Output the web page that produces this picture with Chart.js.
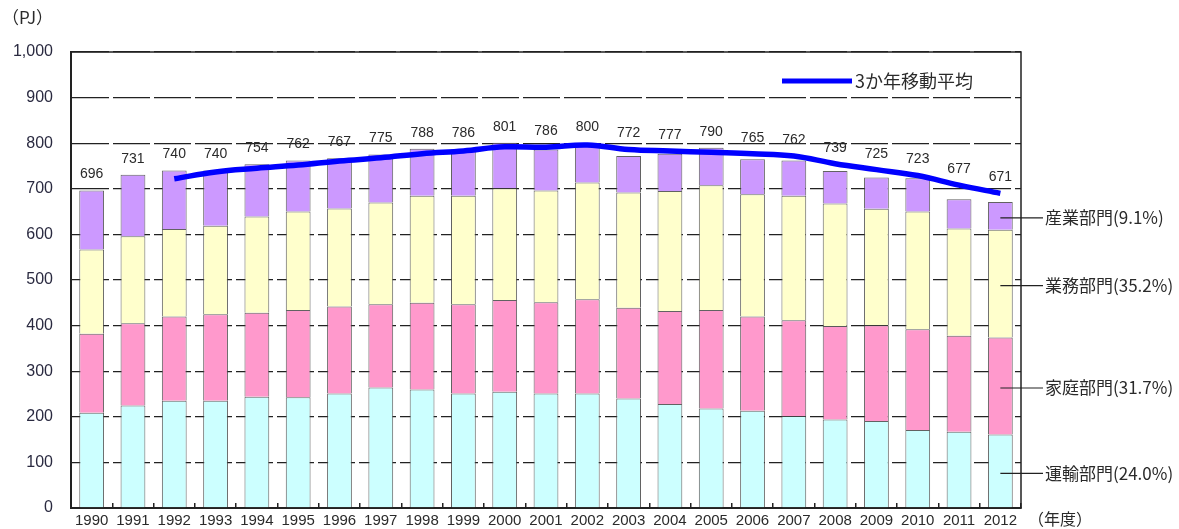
<!DOCTYPE html>
<html lang="ja">
<head>
<meta charset="UTF-8">
<title>部門別エネルギー消費量の推移</title>
<script src="https://cdn.jsdelivr.net/npm/chart.js"></script>
<style>
    html, body { margin: 0; padding: 0; background: #fff; }
    #wrap { width: 1179px; height: 529px; }
</style>
</head>
<body>
<div id="wrap"><canvas id="energyChart" width="1179" height="529"></canvas></div>
<script>
// 年度
const years = ['1990','1991','1992','1993','1994','1995','1996','1997','1998','1999','2000',
               '2001','2002','2003','2004','2005','2006','2007','2008','2009','2010','2011','2012'];

// 部門別 (PJ) - 図から読み取り
const unyu   = [209,225,235,235,244,243,251,264,260,251,255,251,251,240,228,218,213,202,194,191,171,167,161];
const katei  = [173,180,185,190,184,191,191,183,190,196,201,200,207,199,204,216,207,210,205,210,221,211,213];
const gyomu  = [185,191,192,194,211,216,215,223,235,238,245,245,256,253,263,274,268,273,269,255,258,235,236];
const sangyo = [129,135,128,121,115,112,110,105,103,101,100,90,86,80,82,82,77,77,71,69,73,64,61];

// 合計 (棒の上のラベル)
const totals = [696,731,740,740,754,762,767,775,788,786,801,786,800,772,777,790,765,762,739,725,723,677,671];

// 3か年移動平均 (1992年度から)
const movingAvg = [null,null,722,737,745,752,761,768,777,783,792,791,796,786,783,780,777,772,755,742,729,708,690];

const sectorNames = ['運輸部門(24.0%)','家庭部門(31.7%)','業務部門(35.2%)','産業部門(9.1%)'];

const numFont = '"Liberation Sans", Arial, sans-serif';
const jpFont = '"Noto Sans CJK JP", sans-serif';

// 枠線・ラベル類を描くプラグイン
const decorPlugin = {
    id: 'decor',
    beforeDatasetsDraw(chart) {
        const { ctx, scales } = chart;
        // 合計値ラベル (棒または移動平均線の上に置く)
        ctx.save();
        ctx.font = '14px ' + numFont;
        ctx.fillStyle = '#2a2a2a';
        ctx.textAlign = 'center';
        ctx.textBaseline = 'middle';
        totals.forEach((t, i) => {
            let top = scales.y.getPixelForValue(t);
            if (movingAvg[i] !== null) {
                top = Math.min(top, scales.y.getPixelForValue(movingAvg[i]));
            }
            ctx.fillText(String(t), scales.x.getPixelForValue(i), top - 16);
        });
        ctx.restore();
    },
    afterDraw(chart) {
        const { ctx, chartArea, scales } = chart;
        ctx.save();
        // 外枠
        ctx.strokeStyle = '#222';
        ctx.lineWidth = 1.5;
        ctx.beginPath();
        ctx.moveTo(chartArea.left, chartArea.top);
        ctx.lineTo(chartArea.right, chartArea.top);
        ctx.lineTo(chartArea.right, chartArea.bottom);
        ctx.stroke();

        // 単位
        ctx.fillStyle = '#2a2a2a';
        ctx.font = '17px ' + jpFont;
        ctx.textBaseline = 'middle';
        ctx.textAlign = 'left';
        ctx.fillText('（PJ）', 2, 18);
        ctx.font = '16px ' + jpFont;
        ctx.fillText('（年度）', 1028, 519);

        // 凡例
        ctx.strokeStyle = '#0000ff';
        ctx.lineWidth = 5;
        ctx.beginPath();
        ctx.moveTo(782, 81);
        ctx.lineTo(852, 81);
        ctx.stroke();
        ctx.fillStyle = '#2a2a2a';
        ctx.font = '18px ' + jpFont;
        ctx.fillText('3か年移動平均', 855, 81);

        // 右側の部門ラベル
        const last = years.length - 1;
        const x0 = scales.x.getPixelForValue(last);
        const stacks = [unyu, katei, gyomu, sangyo];
        let base = 0;
        ctx.font = '17px ' + jpFont;
        stacks.forEach((s, k) => {
            const mid = base + s[last] / 2;
            base += s[last];
            const y = scales.y.getPixelForValue(mid) + 2;
            ctx.strokeStyle = '#222';
            ctx.lineWidth = 1.2;
            ctx.beginPath();
            ctx.moveTo(x0, y);
            ctx.lineTo(1043, y);
            ctx.stroke();
            ctx.fillStyle = '#2a2a2a';
            ctx.fillText(sectorNames[k], 1045, y);
        });
        ctx.restore();
    }
};

const barBorder = 'rgba(70,70,70,0.85)';
function barSet(label, data, color) {
    return {
        type: 'bar',
        label: label,
        data: data,
        backgroundColor: color,
        borderColor: barBorder,
        borderWidth: 1,
        barPercentage: 0.6,
        categoryPercentage: 1.0,
        stack: 'total',
        order: 1
    };
}

new Chart(document.getElementById('energyChart').getContext('2d'), {
    data: {
        labels: years,
        datasets: [
            {
                type: 'line',
                label: '3か年移動平均',
                data: movingAvg,
                borderColor: '#0000ff',
                borderWidth: 5.5,
                pointRadius: 0,
                tension: 0.4,
                fill: false,
                spanGaps: false,
                order: 0
            },
            barSet(sectorNames[0], unyu, '#ccffff'),
            barSet(sectorNames[1], katei, '#ff99cc'),
            barSet(sectorNames[2], gyomu, '#ffffcc'),
            barSet(sectorNames[3], sangyo, '#cc99ff')
        ]
    },
    options: {
        responsive: false,
        animation: false,
        layout: { padding: { left: 0, right: 158, top: 52, bottom: 0 } },
        plugins: {
            legend: { display: false },
            tooltip: { enabled: false }
        },
        scales: {
            x: {
                stacked: true,
                // 区切りの小さい目盛り (内向き)
                grid: { display: true, drawOnChartArea: false, drawTicks: true, tickLength: -5, color: '#222', lineWidth: 1.5 },
                border: { display: true, color: '#222', width: 2 },
                ticks: {
                    color: '#2a2a2a',
                    font: { family: numFont, size: 15 },
                    padding: 9,
                    maxRotation: 0,
                    autoSkip: false
                },
                afterFit(scale) { scale.height = 21; }
            },
            y: {
                stacked: true,
                min: 0,
                max: 1000,
                grid: { color: '#222', lineWidth: 1.3, drawTicks: false },
                border: { display: true, color: '#222', width: 2, dash: [37, 4] },
                ticks: {
                    stepSize: 100,
                    color: '#2a2a40',
                    font: { family: numFont, size: 16 },
                    padding: 18,
                    callback: v => v.toLocaleString('en-US')
                },
                afterFit(scale) {
                    scale.width = 71;
                    scale.paddingTop = 0;
                    scale.paddingBottom = 0;
                }
            }
        }
    },
    plugins: [decorPlugin]
});
</script>
</body>
</html>
